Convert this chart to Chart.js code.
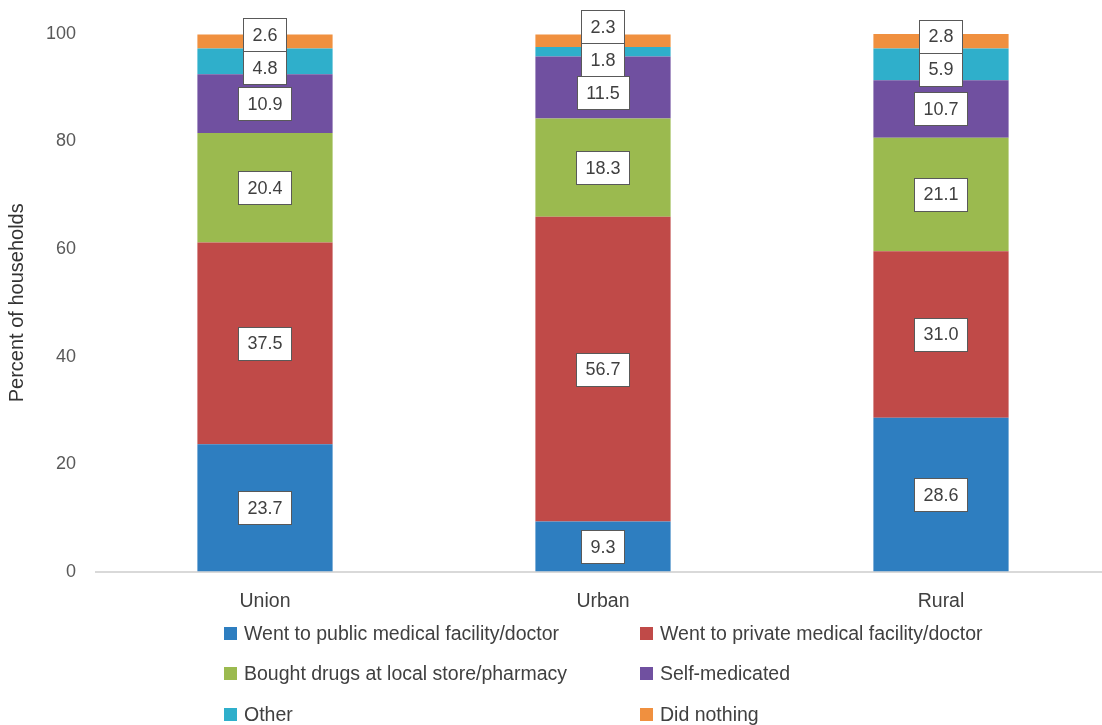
<!DOCTYPE html>
<html>
<head>
<meta charset="utf-8">
<script src="https://cdn.jsdelivr.net/npm/chart.js@4.4.1/dist/chart.umd.min.js"></script>
<style>
  html, body { margin: 0; padding: 0; background: #fff; }
  #wrap { position: relative; width: 1102px; height: 725px; overflow: hidden; }
  #chart { position: absolute; left: 0; top: 0; }
  #legend { position: absolute; left: 0; top: 0; width: 1102px; height: 725px; pointer-events: none;
    font-family: "Liberation Sans", Arial, sans-serif; font-size: 19.5px; color: #404040; }
  .item { position: absolute; display: flex; align-items: center; white-space: nowrap; }
  .item .box { width: 13px; height: 13px; margin-right: 7px; }
</style>
</head>
<body>
<div id="wrap">
  <!-- canvas is a little wider than the window: the plot runs off the right edge like the source -->
  <canvas id="chart" width="1110" height="725"></canvas>
  <div id="legend"></div>
</div>
<script>
const FONT = "'Liberation Sans', Arial, sans-serif";

const categories = ["Union", "Urban", "Rural"];
const seriesNames = [
  "Went to public medical facility/doctor",
  "Went to private medical facility/doctor",
  "Bought drugs at local store/pharmacy",
  "Self-medicated",
  "Other",
  "Did nothing"
];
const publicFacility = [23.7, 9.3, 28.6];
const privateFacility = [37.5, 56.7, 31.0];
const boughtDrugs = [20.4, 18.3, 21.1];
const selfMedicated = [10.9, 11.5, 10.7];
const other = [4.8, 1.8, 5.9];
const didNothing = [2.6, 2.3, 2.8];
const yTicks = [0, 20, 40, 60, 80, 100];

const colors = ["#2E7EC0", "#C04A48", "#9BBA4F", "#7050A0", "#2FAFCB", "#F0903F"];
const seriesValues = [publicFacility, privateFacility, boughtDrugs, selfMedicated, other, didNothing];

// boxed value labels, nudged apart when small segments overlap
const boxLabels = {
  id: "boxLabels",
  afterDatasetsDraw(chart) {
    const ctx = chart.ctx;
    ctx.save();
    ctx.font = "18px " + FONT;
    ctx.textAlign = "center";
    ctx.textBaseline = "middle";
    const h = 33;
    categories.forEach((c, i) => {
      const labels = [];
      chart.data.datasets.forEach((ds, d) => {
        const el = chart.getDatasetMeta(d).data[i];
        if (!el) return;
        const text = Number(ds.data[i]).toFixed(1);
        labels.push({ x: el.x, y: (el.y + el.base) / 2, text, w: ctx.measureText(text).width + 18 });
      });
      labels.sort((a, b) => a.y - b.y);
      for (let k = 0; k < 60; k++) {
        for (let j = 0; j < labels.length - 1; j++) {
          const a = labels[j], b = labels[j + 1];
          const over = h - (b.y - a.y);
          if (over > 0) { a.y -= over / 2; b.y += over / 2; }
        }
      }
      labels.forEach((l) => {
        const x0 = Math.round(l.x - l.w / 2) + 0.5;
        const y0 = Math.round(l.y - h / 2) + 0.5;
        ctx.fillStyle = "#fff";
        ctx.fillRect(x0, y0, Math.round(l.w), h);
        ctx.strokeStyle = "#595959";
        ctx.lineWidth = 1;
        ctx.strokeRect(x0, y0, Math.round(l.w), h);
        ctx.fillStyle = "#404040";
        ctx.fillText(l.text, l.x, l.y + 1);
      });
    });
    ctx.restore();
  }
};

new Chart(document.getElementById("chart"), {
  type: "bar",
  data: {
    labels: categories,
    datasets: seriesNames.map((name, i) => ({
      label: name,
      data: seriesValues[i],
      backgroundColor: colors[i],
      borderWidth: 0,
      barPercentage: 0.4,
      categoryPercentage: 1
    }))
  },
  options: {
    responsive: false,
    animation: false,
    layout: { padding: { top: 34, right: 0, bottom: 94, left: 0 } },
    plugins: { legend: { display: false }, tooltip: { enabled: false } },
    scales: {
      x: {
        stacked: true,
        grid: { display: false, drawTicks: false },
        border: { display: true, color: "#D9D9D9", width: 2 },
        ticks: { color: "#404040", font: { family: FONT, size: 19.5 }, padding: 18 }
      },
      y: {
        stacked: true,
        min: 0,
        max: 100,
        afterBuildTicks: (scale) => { scale.ticks = yTicks.map((v) => ({ value: v })); },
        afterFit: (scale) => { scale.width = 96; },
        grid: { display: false, drawTicks: false },
        border: { display: false },
        ticks: { color: "#595959", font: { family: FONT, size: 18 }, padding: 20 },
        title: {
          display: true,
          text: "Percent of households",
          color: "#333",
          font: { family: FONT, size: 20 },
          padding: { top: 5, bottom: 0 }
        }
      }
    }
  },
  plugins: [boxLabels]
});

// two-column legend below the plot
const legendPos = [[224, 633], [640, 633], [224, 673], [640, 673], [224, 714], [640, 714]];
const legend = document.getElementById("legend");
seriesNames.forEach((name, i) => {
  const item = document.createElement("div");
  item.className = "item";
  item.style.left = legendPos[i][0] + "px";
  item.style.top = (legendPos[i][1] - 11) + "px";
  item.style.height = "22px";
  item.innerHTML = `<span class="box" style="background:${colors[i]}"></span><span>${name}</span>`;
  legend.appendChild(item);
});
</script>
</body>
</html>
